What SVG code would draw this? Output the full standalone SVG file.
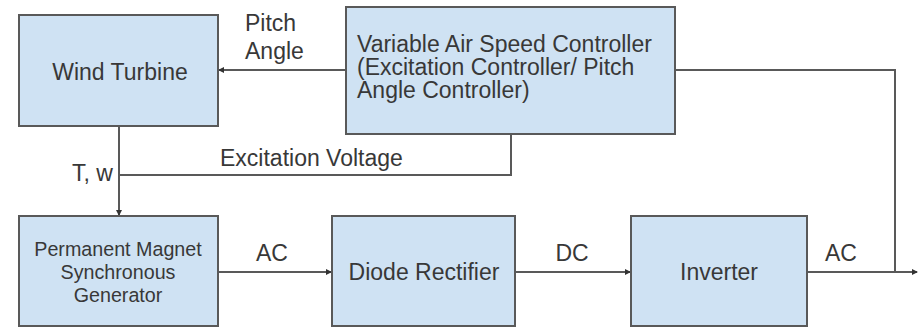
<svg xmlns="http://www.w3.org/2000/svg" width="922" height="327" viewBox="0 0 922 327">
<defs>
<style>
.box{fill:#cfe2f3;stroke:#595959;stroke-width:2}
.ln{fill:none;stroke:#595959;stroke-width:2}
text{font-family:"Liberation Sans",Arial,sans-serif;fill:#383838;font-size:23px}
.c{text-anchor:middle}
.s{font-size:19.7px}
</style>
<marker id="ah" markerWidth="6" markerHeight="6" refX="5" refY="3" orient="auto" markerUnits="userSpaceOnUse">
<path d="M0,0 L6,3 L0,6 Z" fill="#333333"/>
</marker>
</defs>
<rect width="922" height="327" fill="#ffffff"/>
<g id="connectors">
<path class="ln" d="M346,70 H219" marker-end="url(#ah)"/>
<path class="ln" d="M119,126 V215" marker-end="url(#ah)"/>
<path class="ln" d="M119,175 H511 V134"/>
<path class="ln" d="M218,272 H331" marker-end="url(#ah)"/>
<path class="ln" d="M515,272 H630" marker-end="url(#ah)"/>
<path class="ln" d="M807,272 H917" marker-end="url(#ah)"/>
<path class="ln" d="M675,70 H895 V272"/>
<text x="245" y="31">Pitch</text>
<text x="245" y="59">Angle</text>
<text x="220" y="166">Excitation Voltage</text>
<text x="72" y="181">T, w</text>
<text class="c" x="272" y="261">AC</text>
<text class="c" x="572" y="261">DC</text>
<text class="c" x="841" y="261">AC</text>
</g>
<g id="wind-turbine">
<rect class="box" x="19" y="15" width="199" height="111"/>
<text class="c" x="120" y="80">Wind Turbine</text>
</g>
<g id="controller">
<rect class="box" x="346" y="7" width="329" height="127"/>
<text x="357" y="52">Variable Air Speed Controller</text>
<text x="357" y="75">(Excitation Controller/ Pitch</text>
<text x="357" y="98">Angle Controller)</text>
</g>
<g id="pmsg">
<rect class="box" x="19" y="216" width="199" height="110"/>
<text class="c s" x="118" y="256">Permanent Magnet</text>
<text class="c s" x="118" y="279">Synchronous</text>
<text class="c s" x="118" y="302">Generator</text>
</g>
<g id="diode-rectifier">
<rect class="box" x="332" y="216" width="183" height="110"/>
<text class="c" x="424" y="280">Diode Rectifier</text>
</g>
<g id="inverter">
<rect class="box" x="631" y="216" width="176" height="110"/>
<text class="c" x="719" y="280">Inverter</text>
</g>
</svg>
